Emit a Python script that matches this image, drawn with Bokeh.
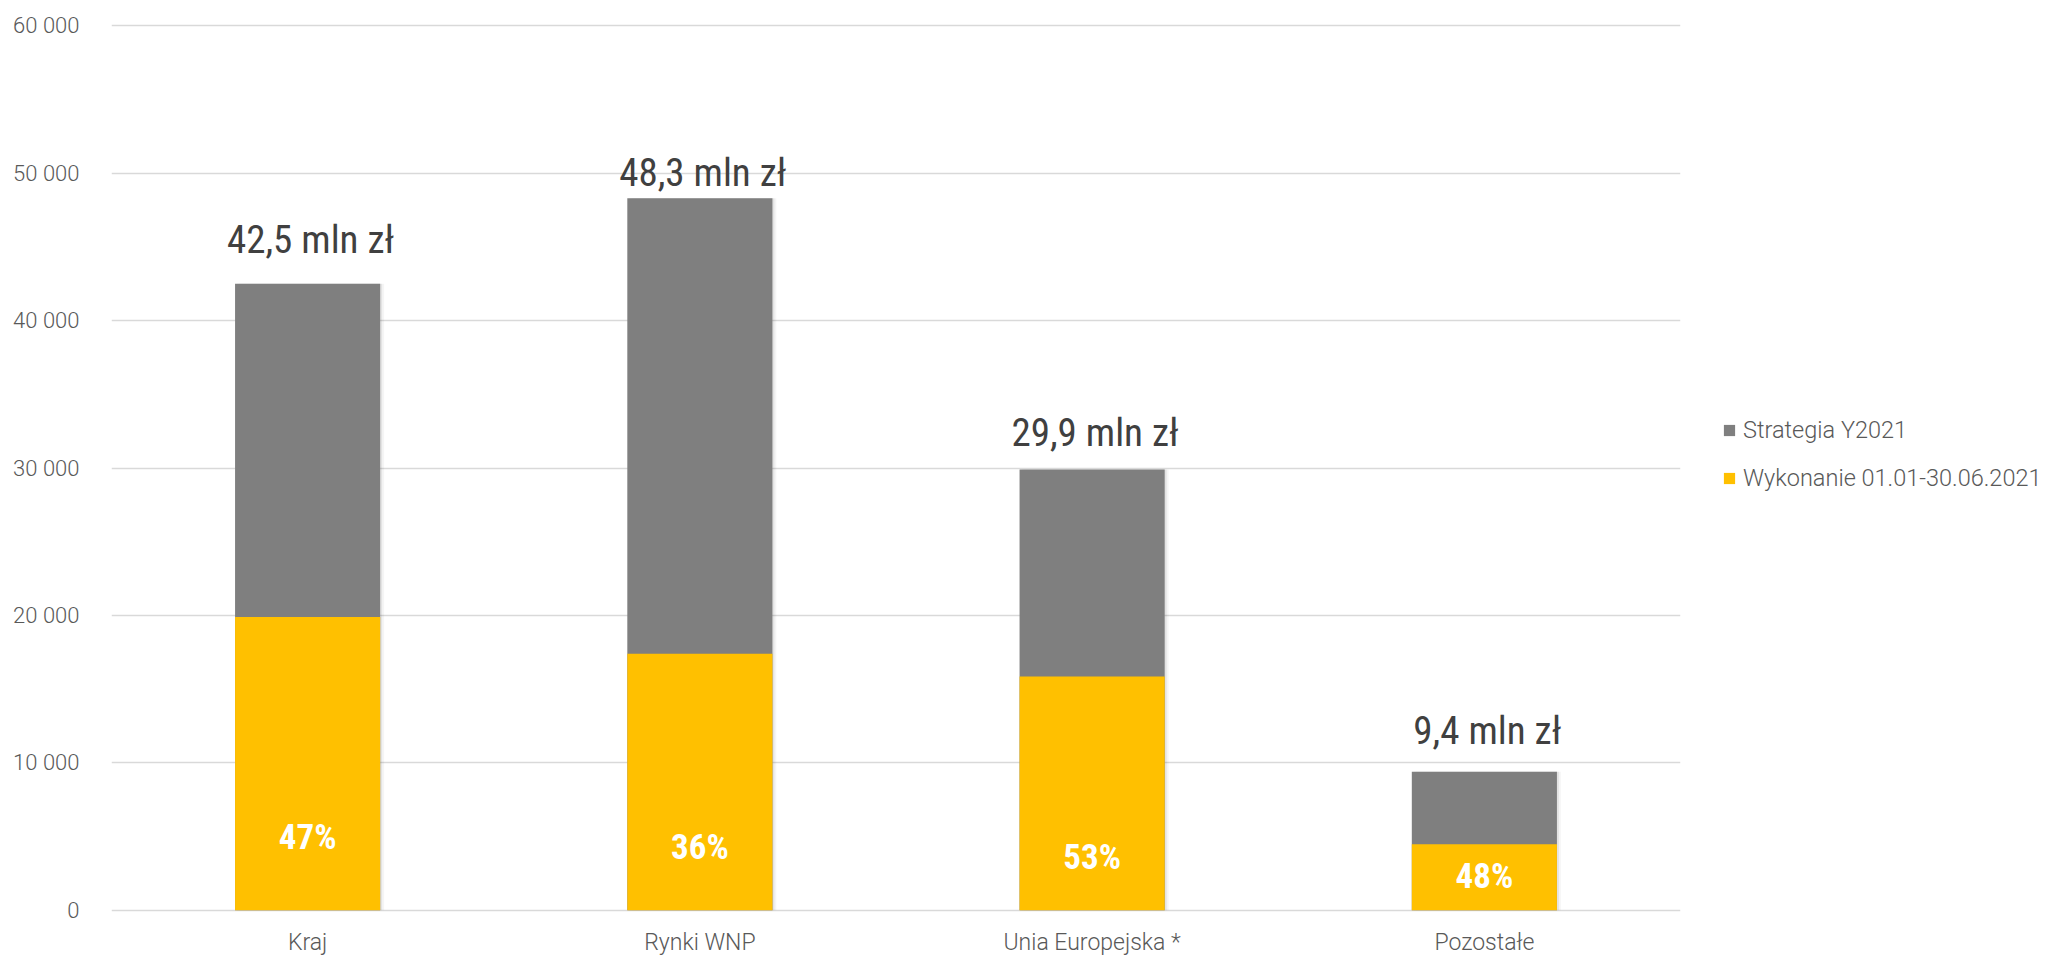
from bokeh.plotting import figure
from bokeh.layouts import row
from bokeh.models import (ColumnDataSource, FactorRange, Range1d, FixedTicker,
                          Legend, LegendItem)
from bokeh.transform import dodge
from bokeh.core.properties import value
from bokeh.embed import file_html
from bokeh.resources import INLINE

# ---- data ----
categories = ["Kraj", "Rynki WNP", "Unia Europejska *", "Pozostałe"]
strategia = [42500, 48300, 29900, 9400]
wykonanie = [19900, 17400, 15850, 4480]
total_labels = ["42,5 mln zł", "48,3 mln zł", "29,9 mln zł", "9,4 mln zł"]
total_label_y = [44800, 49320, 31710, 11510]
pct_labels = ["47%", "36%", "53%", "48%"]
pct_label_y = [4060, 3345, 2710, 1400]
y_ticks = [0, 10000, 20000, 30000, 40000, 50000, 60000]
y_tick_labels = ["0", "10 000", "20 000", "30 000", "40 000", "50 000", "60 000"]
series_names = ["Strategia Y2021", "Wykonanie 01.01-30.06.2021"]

GRAY = "#7f7f7f"
YELLOW = "#ffc000"
LIGHT = "'Roboto Light', Roboto"
COND = "'Roboto Condensed', Roboto"

src = ColumnDataSource(dict(cat=categories, strat=strategia, wyk=wykonanie,
                            tl=total_labels, tly=total_label_y,
                            pl=pct_labels, ply=pct_label_y))

H = 958
p = figure(width=1683, height=H, x_range=FactorRange(*categories),
           y_range=Range1d(-150, 60150), output_backend="svg",
           toolbar_location=None, min_border_left=111, min_border_right=3,
           min_border_top=23, min_border_bottom=44)
p.outline_line_color = None
p.background_fill_color = "white"
p.border_fill_color = "white"

# axes
for ax in (p.xaxis[0], p.yaxis[0]):
    ax.axis_line_color = None
    ax.major_tick_line_color = None
    ax.minor_tick_line_color = None
    ax.major_label_text_font = LIGHT
    ax.major_label_text_color = "#595959"
p.xaxis.major_label_text_font_size = "23px"
p.yaxis.major_label_text_font_size = "22px"
p.xaxis.major_label_standoff = 10
p.yaxis.major_label_standoff = 26
p.yaxis.ticker = FixedTicker(ticks=y_ticks)
p.yaxis.major_label_overrides = {t: l for t, l in zip(y_ticks, y_tick_labels)}

p.xgrid.grid_line_color = None
p.ygrid.grid_line_color = "#d9d9d9"
p.ygrid.grid_line_width = 1.5
p.ygrid.ticker = FixedTicker(ticks=y_ticks)

# soft shadow
p.vbar(x=dodge("cat", 0.005, range=p.x_range), top="strat", width=0.37,
       source=src, fill_color="black", fill_alpha=0.07, line_color=None)
p.vbar(x=dodge("cat", 0.010, range=p.x_range), top="strat", width=0.37,
       source=src, fill_color="black", fill_alpha=0.04, line_color=None)

p.vbar(x="cat", top="strat", width=0.37, source=src,
       fill_color=GRAY, line_color=None)
p.vbar(x="cat", top="wyk", width=0.37, source=src,
       fill_color=YELLOW, line_color=None)

p.text(x="cat", y="tly", text="tl", source=src, text_font=value(COND),
       text_font_size="39px", text_color="#404040", text_align="center",
       text_baseline="alphabetic", x_offset=3, y_offset=-10)
p.text(x="cat", y="ply", text="pl", source=src, text_font=value(COND),
       text_font_size="35px", text_font_style="bold", text_color="white",
       text_align="center", text_baseline="alphabetic", y_offset=-13)

# ---- legend panel ----
lf = figure(width=360, height=H, x_range=Range1d(0, 1), y_range=Range1d(0, 1),
            output_backend="svg", toolbar_location=None,
            x_axis_location=None, y_axis_location=None,
            min_border_left=0, min_border_right=0, min_border_top=0,
            min_border_bottom=0)
lf.outline_line_color = None
lf.xgrid.visible = False
lf.ygrid.visible = False
# renderers kept outside the visible range: they only feed the legend swatches
l1 = lf.vbar(x=[10], top=[10], bottom=[9], width=0.1,
             fill_color=GRAY, line_color=None)
l2 = lf.vbar(x=[10], top=[10], bottom=[9], width=0.1,
             fill_color=YELLOW, line_color=None)

legend = Legend(items=[LegendItem(label=series_names[0], renderers=[l1]),
                       LegendItem(label=series_names[1], renderers=[l2])],
                location=(39, 420), orientation="vertical",
                glyph_width=14, glyph_height=14, label_standoff=7,
                label_text_font=LIGHT, label_text_font_size="23.5px",
                label_text_color="#595959", label_height=28, spacing=20,
                padding=0, margin=0, border_line_color=None,
                background_fill_alpha=0)
lf.add_layout(legend, "center")

layout = row(p, lf)
open("out.html", "w").write(file_html(layout, INLINE))
